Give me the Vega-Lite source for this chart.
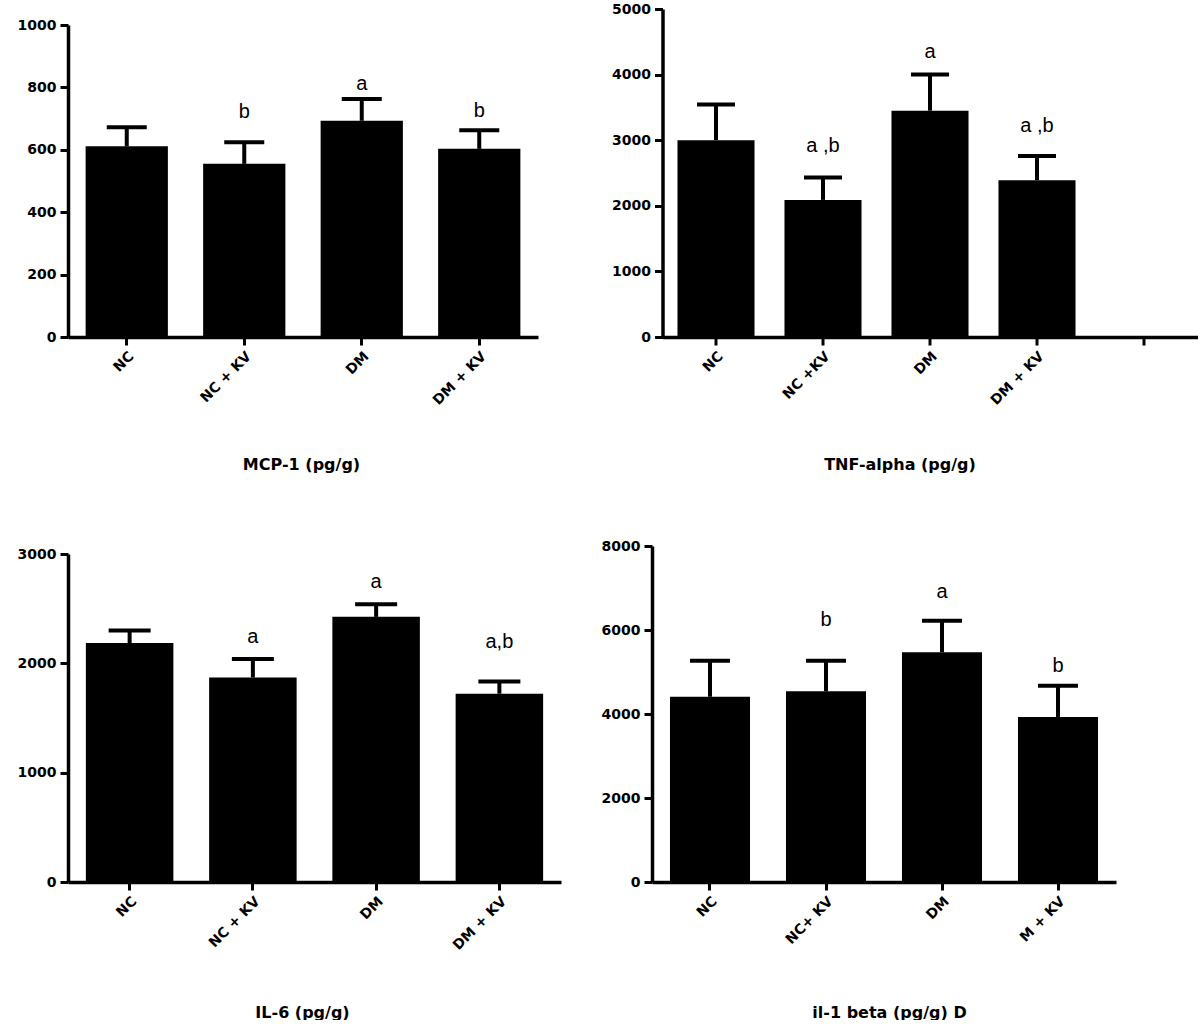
{
  "$schema": "https://vega.github.io/schema/vega-lite/v6.json",
  "background": "white",
  "padding": {"left": 17, "top": 2, "right": 0, "bottom": 0},
  "spacing": 67,
  "datasets": {
    "mcp": [
      {"group": "NC", "mean": 611, "err": 672, "sig": "", "sig_y": null},
      {"group": "NC + KV", "mean": 555, "err": 624, "sig": "b", "sig_y": 721},
      {"group": "DM", "mean": 693, "err": 763, "sig": "a", "sig_y": 811},
      {"group": "DM + KV", "mean": 603, "err": 663, "sig": "b", "sig_y": 724}
    ],
    "tnf": [
      {"group": "NC", "mean": 3000, "err": 3545, "sig": "", "sig_y": null},
      {"group": "NC +KV", "mean": 2090, "err": 2430, "sig": "a ,b", "sig_y": 2916},
      {"group": "DM", "mean": 3450, "err": 4000, "sig": "a", "sig_y": 4340},
      {"group": "DM + KV", "mean": 2390, "err": 2760, "sig": "a ,b", "sig_y": 3221}
    ],
    "il6": [
      {"group": "NC", "mean": 2185, "err": 2300, "sig": "", "sig_y": null},
      {"group": "NC + KV", "mean": 1870, "err": 2040, "sig": "a", "sig_y": 2244},
      {"group": "DM", "mean": 2425, "err": 2540, "sig": "a", "sig_y": 2747},
      {"group": "DM + KV", "mean": 1722, "err": 1833, "sig": "a,b", "sig_y": 2198}
    ],
    "il1": [
      {"group": "NC", "mean": 4410, "err": 5270, "sig": "", "sig_y": null},
      {"group": "NC+ KV", "mean": 4540, "err": 5270, "sig": "b", "sig_y": 6238},
      {"group": "DM", "mean": 5470, "err": 6220, "sig": "a", "sig_y": 6912},
      {"group": "M + KV", "mean": 3930, "err": 4670, "sig": "b", "sig_y": 5143}
    ]
  },
  "vconcat": [
    {
      "hconcat": [
        {
          "width": 470,
          "height": 328,
          "data": {"name": "mcp"},
          "encoding": {
            "x": {
              "field": "group", "type": "nominal", "sort": null,
              "scale": {"domain": ["NC", "NC + KV", "DM", "DM + KV"], "paddingInner": 0.3, "paddingOuter": 0.15},
              "axis": {"title": "MCP-1 (pg/g)", "labelAngle": -45, "titleX": 233, "titleY": 127, "titleBaseline": "middle", "titleAlign": "center"}
            }
          },
          "layer": [
            {"mark": {"type": "bar", "color": "black"},
             "encoding": {"y": {"field": "mean", "type": "quantitative", "title": null,
               "scale": {"domain": [0, 1000], "range": [328, 16], "nice": false},
               "axis": {"values": [0, 200, 400, 600, 800, 1000], "format": "d"}}}},
            {"mark": {"type": "rule", "strokeWidth": 4, "color": "black"},
             "encoding": {"y": {"field": "mean", "type": "quantitative", "title": null}, "y2": {"field": "err"}}},
            {"mark": {"type": "tick", "thickness": 4, "size": 40, "color": "black", "opacity": 1},
             "encoding": {"y": {"field": "err", "type": "quantitative", "title": null}}},
            {"transform": [{"filter": "datum.sig != ''"}],
             "mark": {"type": "text", "fontSize": 20, "font": "Liberation Sans", "baseline": "middle", "color": "black"},
             "encoding": {"y": {"field": "sig_y", "type": "quantitative", "title": null}, "text": {"field": "sig"}}}
          ]
        },
        {
          "width": 535,
          "height": 328,
          "data": {"name": "tnf"},
          "encoding": {
            "x": {
              "field": "group", "type": "nominal", "sort": null,
              "scale": {"domain": ["NC", "NC +KV", "DM", "DM + KV", " "], "paddingInner": 0.28, "paddingOuter": 0.14},
              "axis": {"title": "TNF-alpha (pg/g)", "labelAngle": -45, "titleX": 237, "titleY": 127, "titleBaseline": "middle", "titleAlign": "center"}
            }
          },
          "layer": [
            {"mark": {"type": "bar", "color": "black"},
             "encoding": {"y": {"field": "mean", "type": "quantitative", "title": null,
               "scale": {"domain": [0, 5000], "nice": false},
               "axis": {"values": [0, 1000, 2000, 3000, 4000, 5000], "format": "d"}}}},
            {"mark": {"type": "rule", "strokeWidth": 4, "color": "black"},
             "encoding": {"y": {"field": "mean", "type": "quantitative", "title": null}, "y2": {"field": "err"}}},
            {"mark": {"type": "tick", "thickness": 4, "size": 38, "color": "black", "opacity": 1},
             "encoding": {"y": {"field": "err", "type": "quantitative", "title": null}}},
            {"transform": [{"filter": "datum.sig != ''"}],
             "mark": {"type": "text", "fontSize": 20, "font": "Liberation Sans", "baseline": "middle", "color": "black"},
             "encoding": {"y": {"field": "sig_y", "type": "quantitative", "title": null}, "text": {"field": "sig"}}}
          ]
        }
      ],
      "spacing": 124.5,
      "bounds": "flush"
    },
    {
      "hconcat": [
        {
          "width": 493,
          "height": 336,
          "data": {"name": "il6"},
          "encoding": {
            "x": {
              "field": "group", "type": "nominal", "sort": null,
              "scale": {"domain": ["NC", "NC + KV", "DM", "DM + KV"], "paddingInner": 0.29, "paddingOuter": 0.145},
              "axis": {"title": "IL-6 (pg/g)", "labelAngle": -45, "titleX": 234, "titleY": 130, "titleBaseline": "middle", "titleAlign": "center"}
            }
          },
          "layer": [
            {"mark": {"type": "bar", "color": "black"},
             "encoding": {"y": {"field": "mean", "type": "quantitative", "title": null,
               "scale": {"domain": [0, 3000], "range": [336, 8], "nice": false},
               "axis": {"values": [0, 1000, 2000, 3000], "format": "d"}}}},
            {"mark": {"type": "rule", "strokeWidth": 4, "color": "black"},
             "encoding": {"y": {"field": "mean", "type": "quantitative", "title": null}, "y2": {"field": "err"}}},
            {"mark": {"type": "tick", "thickness": 4, "size": 42, "color": "black", "opacity": 1},
             "encoding": {"y": {"field": "err", "type": "quantitative", "title": null}}},
            {"transform": [{"filter": "datum.sig != ''"}],
             "mark": {"type": "text", "fontSize": 20, "font": "Liberation Sans", "baseline": "middle", "color": "black"},
             "encoding": {"y": {"field": "sig_y", "type": "quantitative", "title": null}, "text": {"field": "sig"}}}
          ]
        },
        {
          "width": 464,
          "height": 336,
          "data": {"name": "il1"},
          "encoding": {
            "x": {
              "field": "group", "type": "nominal", "sort": null,
              "scale": {"domain": ["NC", "NC+ KV", "DM", "M + KV"], "paddingInner": 0.31, "paddingOuter": 0.155},
              "axis": {"title": "il-1 beta (pg/g)  D", "labelAngle": -45, "titleX": 237, "titleY": 130, "titleBaseline": "middle", "titleAlign": "center"}
            }
          },
          "layer": [
            {"mark": {"type": "bar", "color": "black"},
             "encoding": {"y": {"field": "mean", "type": "quantitative", "title": null,
               "scale": {"domain": [0, 8000], "nice": false},
               "axis": {"values": [0, 2000, 4000, 6000, 8000], "format": "d"}}}},
            {"mark": {"type": "rule", "strokeWidth": 4, "color": "black"},
             "encoding": {"y": {"field": "mean", "type": "quantitative", "title": null}, "y2": {"field": "err"}}},
            {"mark": {"type": "tick", "thickness": 4, "size": 40, "color": "black", "opacity": 1},
             "encoding": {"y": {"field": "err", "type": "quantitative", "title": null}}},
            {"transform": [{"filter": "datum.sig != ''"}],
             "mark": {"type": "text", "fontSize": 20, "font": "Liberation Sans", "baseline": "middle", "color": "black"},
             "encoding": {"y": {"field": "sig_y", "type": "quantitative", "title": null}, "text": {"field": "sig"}}}
          ]
        }
      ],
      "spacing": 91,
      "bounds": "flush"
    }
  ],
  "config": {
    "view": {"stroke": null},
    "axis": {
      "grid": false,
      "domainColor": "black",
      "domainWidth": 3.5,
      "tickColor": "black",
      "tickWidth": 3,
      "tickSize": 8,
      "labelColor": "black",
      "labelFont": "DejaVu Sans",
      "labelFontWeight": "bold",
      "labelFontSize": 14,
      "labelPadding": 4,
      "titleColor": "black",
      "titleFont": "DejaVu Sans",
      "titleFontWeight": "bold",
      "titleFontSize": 16
    }
  }
}
